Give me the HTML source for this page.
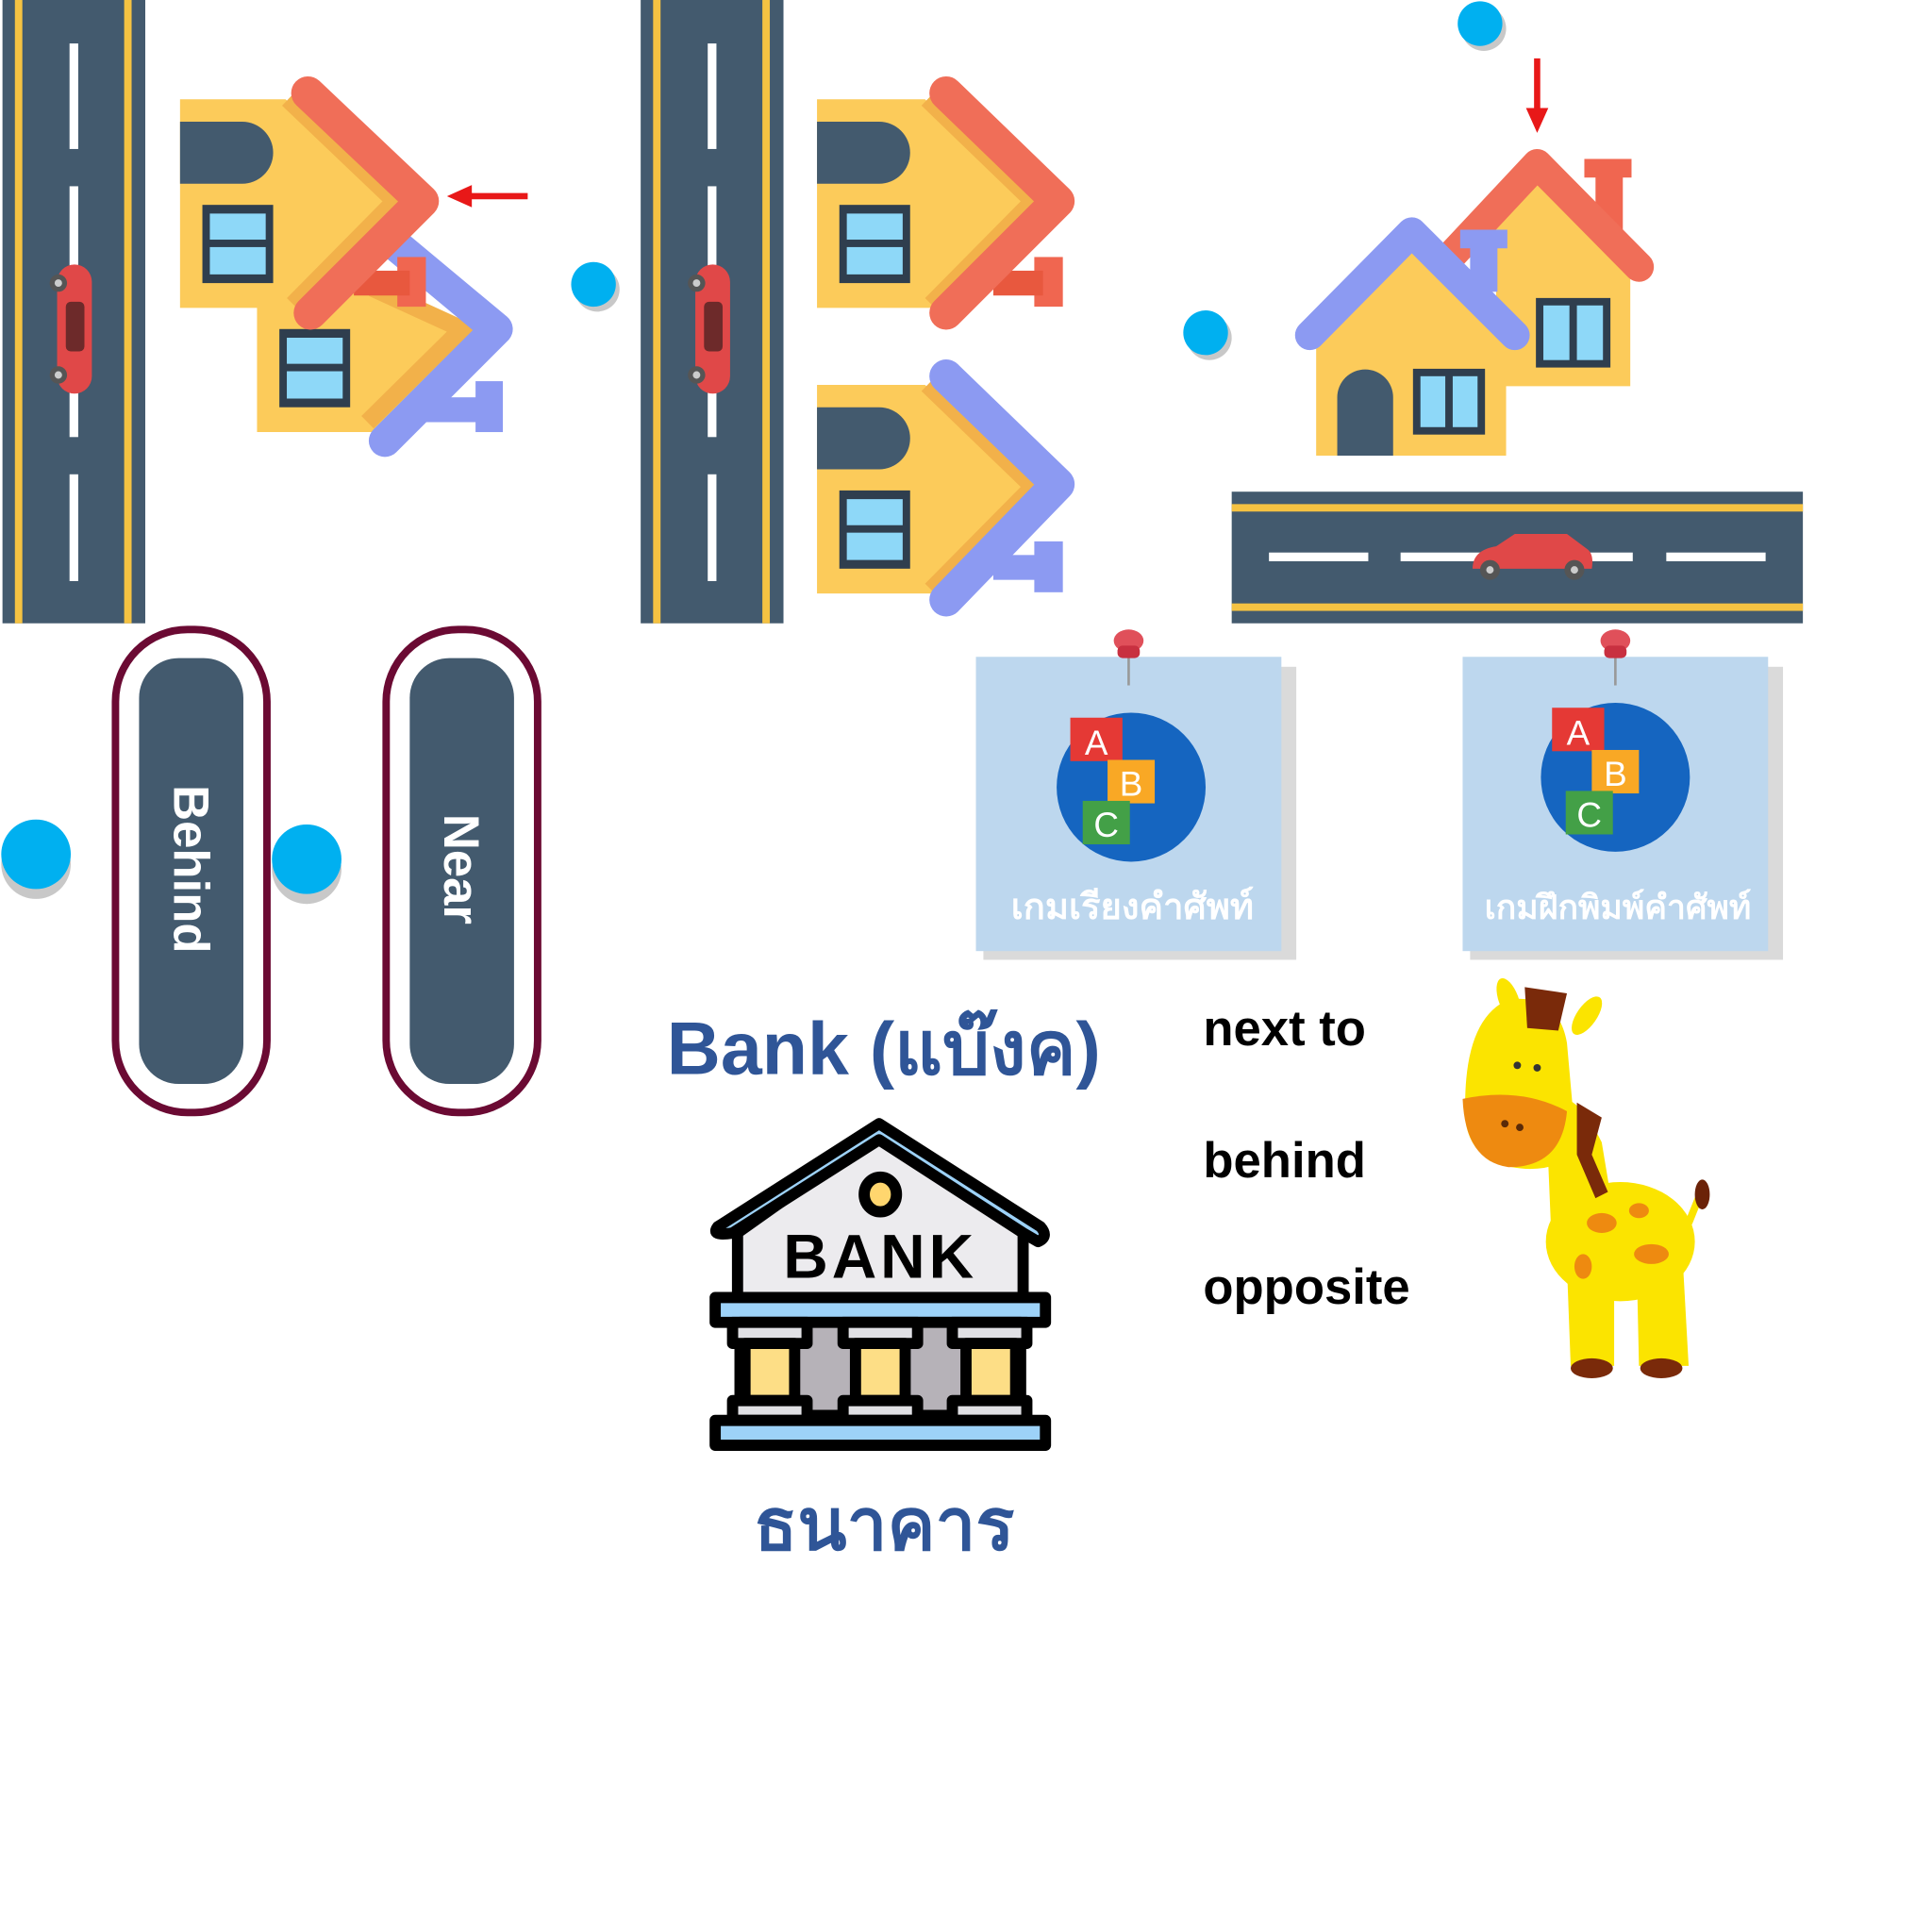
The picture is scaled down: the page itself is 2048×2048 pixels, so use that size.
<!DOCTYPE html>
<html><head><meta charset="utf-8"><style>
html,body{margin:0;padding:0;background:#fff;width:2048px;height:2048px;overflow:hidden}
svg{display:block}
text{font-family:"Liberation Sans","Noto Sans CJK SC",sans-serif}
</style></head><body>
<svg width="2048" height="2048" viewBox="0 0 1556 1556" xmlns="http://www.w3.org/2000/svg">
<defs>
<g id="vroad">
 <rect x="0" y="0" width="115" height="502" fill="#435A6E"/>
 <rect x="10" y="0" width="6" height="502" fill="#F5C242"/>
 <rect x="98" y="0" width="6" height="502" fill="#F5C242"/>
 <g fill="#fff"><rect x="54" y="35" width="7" height="85"/><rect x="54" y="150" width="7" height="70"/><rect x="54" y="300" width="7" height="52"/><rect x="54" y="382" width="7" height="86"/></g>
 <g transform="translate(58,265)">
  <rect x="-14" y="-52" width="28" height="104" rx="14" fill="#E04848"/>
  <rect x="-7" y="-22" width="15" height="40" rx="4" fill="#6d2a2a"/>
  <circle cx="-13" cy="-37" r="7" fill="#555"/><circle cx="-13" cy="37" r="7" fill="#555"/>
  <circle cx="-13" cy="-37" r="3" fill="#ccc"/><circle cx="-13" cy="37" r="3" fill="#ccc"/>
 </g>
</g>
<g id="win"><rect x="0" y="0" width="57" height="63" fill="#2f3e4e"/><rect x="6" y="7" width="45" height="21" fill="#8ED8F8"/><rect x="6" y="34" width="45" height="22" fill="#8ED8F8"/></g>
</defs>

<!-- Group 1 -->
<use href="#vroad" x="2" y="0"/>
<polygon points="207,230 300,230 385,265 300,348 207,348" fill="#FCCB5A"/>
<polyline points="300,232 372,265 296,340" fill="none" stroke="#F2B14A" stroke-width="14"/>
<rect x="383" y="307" width="22" height="41" fill="#8C9AF2"/>
<rect x="340" y="320" width="50" height="20" fill="#8C9AF2"/>
<polyline points="310,190 400,265 310,355" fill="none" stroke="#8C9AF2" stroke-width="26" stroke-linecap="round" stroke-linejoin="round"/>
<use href="#win" x="225" y="265"/>
<polygon points="145,80 230,80 320,160 240,248 145,248" fill="#FCCB5A"/>
<polyline points="232,80 318,162 236,245" fill="none" stroke="#F2B14A" stroke-width="14"/>
<rect x="320" y="207" width="23" height="40" fill="#F06650"/>
<rect x="285" y="218" width="45" height="20" fill="#E8583E"/>
<polyline points="248,75 340,162 250,252" fill="none" stroke="#F06E58" stroke-width="27" stroke-linecap="round" stroke-linejoin="round"/>
<path d="M145,98 H195 A25,25 0 0 1 195,148 H145 Z" fill="#435A6E"/>
<use href="#win" x="163" y="165"/>
<line x1="425" y1="158" x2="375" y2="158" stroke="#E81818" stroke-width="5"/>
<polygon points="360,158 380,149 380,167" fill="#E81818"/>

<!-- Group 2 -->
<use href="#vroad" x="516" y="0"/>
<polygon points="658,80 745,80 835,162 755,248 658,248" fill="#FCCB5A"/>
<polyline points="747,80 832,162 750,245" fill="none" stroke="#F2B14A" stroke-width="14"/>
<rect x="833" y="207" width="23" height="40" fill="#F06650"/>
<rect x="800" y="218" width="40" height="20" fill="#E8583E"/>
<polyline points="762,75 852,162 762,252" fill="none" stroke="#F06E58" stroke-width="27" stroke-linecap="round" stroke-linejoin="round"/>
<path d="M658,98 H708 A25,25 0 0 1 708,148 H658 Z" fill="#435A6E"/>
<use href="#win" x="676" y="165"/>
<polygon points="658,310 745,310 835,392 755,478 658,478" fill="#FCCB5A"/>
<polyline points="747,310 832,392 750,475" fill="none" stroke="#F2B14A" stroke-width="14"/>
<rect x="833" y="436" width="23" height="41" fill="#8C9AF2"/>
<rect x="800" y="447" width="40" height="20" fill="#8C9AF2"/>
<polyline points="762,303 852,390 762,483" fill="none" stroke="#8C9AF2" stroke-width="27" stroke-linecap="round" stroke-linejoin="round"/>
<path d="M658,328 H708 A25,25 0 0 1 708,378 H658 Z" fill="#435A6E"/>
<use href="#win" x="676" y="395"/>

<!-- Group 3 -->
<rect x="1276" y="128" width="38" height="15" fill="#F06650"/>
<rect x="1285" y="140" width="22" height="45" fill="#F06650"/>
<polygon points="1205,165 1238,132 1313,205 1313,311 1205,311" fill="#FCCB5A"/>
<polyline points="1165,210 1238,132 1320,215" fill="none" stroke="#F06E58" stroke-width="24" stroke-linecap="round" stroke-linejoin="round"/>
<rect x="1237" y="240" width="60" height="56" fill="#2f3e4e"/><rect x="1243" y="246" width="21" height="44" fill="#8ED8F8"/><rect x="1270" y="246" width="21" height="44" fill="#8ED8F8"/>
<rect x="1176" y="185" width="38" height="15" fill="#8C9AF2"/>
<rect x="1184" y="195" width="22" height="40" fill="#8C9AF2"/>
<polygon points="1060,280 1137,200 1213,275 1213,367 1060,367" fill="#FCCB5A"/>
<polyline points="1055,270 1137,187 1220,270" fill="none" stroke="#8C9AF2" stroke-width="24" stroke-linecap="round" stroke-linejoin="round"/>
<path d="M1077,367 V320 A22,22 0 0 1 1122,320 V367 Z" fill="#435A6E"/>
<rect x="1138" y="297" width="58" height="53" fill="#2f3e4e"/><rect x="1144" y="303" width="20" height="41" fill="#8ED8F8"/><rect x="1170" y="303" width="20" height="41" fill="#8ED8F8"/>
<line x1="1238" y1="47" x2="1238" y2="92" stroke="#E81818" stroke-width="5"/>
<polygon points="1238,107 1229,87 1247,87" fill="#E81818"/>

<!-- horizontal road -->
<rect x="992" y="396" width="460" height="106" fill="#435A6E"/>
<rect x="992" y="406" width="460" height="6" fill="#F5C242"/>
<rect x="992" y="486" width="460" height="6" fill="#F5C242"/>
<g fill="#fff"><rect x="1022" y="445" width="80" height="7"/><rect x="1128" y="445" width="80" height="7"/><rect x="1235" y="445" width="80" height="7"/><rect x="1342" y="445" width="80" height="7"/></g>
<path d="M1186,458 Q1186,443 1205,440 L1220,430 H1262 L1278,442 Q1284,446 1282,458 Z" fill="#E04848"/>
<circle cx="1200" cy="459" r="8" fill="#555"/><circle cx="1268" cy="459" r="8" fill="#555"/>
<circle cx="1200" cy="459" r="3" fill="#ccc"/><circle cx="1268" cy="459" r="3" fill="#ccc"/>

<!-- blue dots -->
<g>
<circle cx="481" cy="233" r="18" fill="#c8c8c8"/><circle cx="478" cy="229" r="18" fill="#00B0F0"/>
<circle cx="974" cy="272" r="18" fill="#c8c8c8"/><circle cx="971" cy="268" r="18" fill="#00B0F0"/>
<circle cx="1195" cy="23" r="18" fill="#c8c8c8"/><circle cx="1192" cy="19" r="18" fill="#00B0F0"/>
<circle cx="29" cy="696" r="28" fill="#c8c8c8"/><circle cx="29" cy="688" r="28" fill="#00B0F0"/>
<circle cx="247" cy="700" r="28" fill="#c8c8c8"/><circle cx="247" cy="692" r="28" fill="#00B0F0"/>
</g>

<!-- pills -->
<rect x="93" y="507" width="122" height="389" rx="58" fill="#fff" stroke="#6B0A33" stroke-width="6"/>
<rect x="112" y="530" width="84" height="343" rx="32" fill="#435A6E"/>
<text transform="translate(140,700) rotate(90)" text-anchor="middle" font-size="40" font-weight="bold" fill="#fff">Behind</text>
<rect x="311" y="507" width="122" height="389" rx="58" fill="#fff" stroke="#6B0A33" stroke-width="6"/>
<rect x="330" y="530" width="84" height="343" rx="32" fill="#435A6E"/>
<text transform="translate(358,700) rotate(90)" text-anchor="middle" font-size="40" font-weight="bold" fill="#fff">Near</text>

<!-- cards -->
<g>
<rect x="792" y="537" width="252" height="236" fill="#DADADA"/>
<rect x="786" y="529" width="246" height="237" fill="#BDD7EE"/>
<line x1="909" y1="520" x2="909" y2="552" stroke="#999" stroke-width="2"/>
<ellipse cx="909" cy="516" rx="12" ry="9" fill="#E0505A"/><rect x="900" y="520" width="18" height="10" rx="4" fill="#C83040"/>
<circle cx="911" cy="634" r="60" fill="#1565C0"/>
<rect x="862" y="578" width="42" height="35" fill="#E53935"/><text x="883" y="608" text-anchor="middle" font-size="28" fill="#fff">A</text>
<rect x="892" y="612" width="38" height="35" fill="#F9A825"/><text x="911" y="641" text-anchor="middle" font-size="28" fill="#fff">B</text>
<rect x="872" y="645" width="38" height="35" fill="#43A047"/><text x="891" y="674" text-anchor="middle" font-size="28" fill="#fff">C</text>
<text x="912" y="740" text-anchor="middle" font-size="29" font-weight="bold" fill="#fff">เกมเรียงคำศัพท์</text>
</g>
<g>
<rect x="1184" y="537" width="252" height="236" fill="#DADADA"/>
<rect x="1178" y="529" width="246" height="237" fill="#BDD7EE"/>
<line x1="1301" y1="520" x2="1301" y2="552" stroke="#999" stroke-width="2"/>
<ellipse cx="1301" cy="516" rx="12" ry="9" fill="#E0505A"/><rect x="1292" y="520" width="18" height="10" rx="4" fill="#C83040"/>
<circle cx="1301" cy="626" r="60" fill="#1565C0"/>
<rect x="1250" y="570" width="42" height="35" fill="#E53935"/><text x="1271" y="600" text-anchor="middle" font-size="28" fill="#fff">A</text>
<rect x="1282" y="604" width="38" height="35" fill="#F9A825"/><text x="1301" y="633" text-anchor="middle" font-size="28" fill="#fff">B</text>
<rect x="1261" y="637" width="38" height="35" fill="#43A047"/><text x="1280" y="666" text-anchor="middle" font-size="28" fill="#fff">C</text>
<text x="1303" y="740" text-anchor="middle" font-size="27" font-weight="bold" fill="#fff">เกมฝึกพิมพ์คำศัพท์</text>
</g>

<!-- bank texts -->
<text x="537" y="865" font-size="60" font-weight="bold" fill="#2F5597">Bank (แบ๊งค)</text>
<text x="712" y="1248" text-anchor="middle" font-size="58" font-weight="bold" fill="#2F5597">ธนาคาร</text>
<g font-size="40" font-weight="bold" fill="#000">
<text x="969" y="842">next to</text>
<text x="969" y="948">behind</text>
<text x="969" y="1050">opposite</text>
</g>

<!-- bank icon -->
<g stroke="#000" stroke-width="9" stroke-linejoin="round">
<polygon points="594,993 708,912 824,993 824,1045 594,1045" fill="#ECEBEE"/>
<path d="M578,988 L708,905 L838,988 Q845,996 836,1000 L824,993 L708,918 L590,993 Q572,996 578,988 Z" fill="#9DD2F8"/>
<ellipse cx="709" cy="962" rx="13" ry="14" fill="#FFD66E"/>
<rect x="576" y="1045" width="266" height="20" fill="#9DD2F8"/>
<rect x="596" y="1065" width="226" height="75" fill="#B6B2B8"/>
<rect x="590" y="1065" width="60" height="17" fill="#E0E0E4"/><rect x="679" y="1065" width="60" height="17" fill="#E0E0E4"/><rect x="767" y="1065" width="60" height="17" fill="#E0E0E4"/>
<rect x="600" y="1082" width="40" height="46" fill="#FDDE86"/><rect x="689" y="1082" width="40" height="46" fill="#FDDE86"/><rect x="778" y="1082" width="40" height="46" fill="#FDDE86"/>
<rect x="590" y="1128" width="60" height="16" fill="#E0E0E4"/><rect x="679" y="1128" width="60" height="16" fill="#E0E0E4"/><rect x="767" y="1128" width="60" height="16" fill="#E0E0E4"/>
<rect x="576" y="1144" width="266" height="20" fill="#9DD2F8"/>
</g>
<text x="709" y="1029" text-anchor="middle" font-size="50" font-weight="bold" fill="#000" letter-spacing="3">BANK</text>

<!-- giraffe -->
<g>
<path d="M1265,1100 L1262,1020 L1300,1010 L1300,1100 Z" fill="#FBE400"/>
<path d="M1320,1100 L1318,1010 L1355,1010 L1360,1100 Z" fill="#FBE400"/>
<ellipse cx="1305" cy="1000" rx="60" ry="48" fill="#FBE400"/>
<path d="M1245,890 Q1265,870 1290,920 L1300,980 L1250,1010 Z" fill="#FBE400"/>
<path d="M1270,888 L1290,900 L1282,930 L1295,960 L1285,965 L1270,930 Z" fill="#7A2A0A"/>
<path d="M1360,985 L1372,955" stroke="#FBE400" stroke-width="6"/>
<ellipse cx="1371" cy="962" rx="6" ry="12" fill="#6B2208"/>
<path d="M1180,890 Q1180,820 1215,805 Q1255,800 1262,840 L1270,930 Q1240,950 1200,935 Q1178,920 1180,890 Z" fill="#FBE400"/>
<path d="M1178,885 Q1225,875 1262,895 Q1258,940 1215,940 Q1180,935 1178,885 Z" fill="#EE8A10"/>
<ellipse cx="1215" cy="805" rx="8" ry="18" fill="#FBE400" transform="rotate(-20 1215 805)"/>
<ellipse cx="1278" cy="818" rx="8" ry="18" fill="#FBE400" transform="rotate(35 1278 818)"/>
<path d="M1228,795 L1262,800 L1255,830 L1230,828 Z" fill="#7A2A0A"/>
<g fill="#EE8A10"><ellipse cx="1290" cy="985" rx="12" ry="8"/><ellipse cx="1330" cy="1010" rx="14" ry="8"/><ellipse cx="1275" cy="1020" rx="7" ry="10"/><ellipse cx="1320" cy="975" rx="8" ry="6"/></g>
<ellipse cx="1282" cy="1102" rx="17" ry="8" fill="#7A2A0A"/><ellipse cx="1338" cy="1102" rx="17" ry="8" fill="#7A2A0A"/>
<circle cx="1222" cy="858" r="3" fill="#333"/><circle cx="1238" cy="860" r="3" fill="#333"/>
<circle cx="1212" cy="905" r="3" fill="#5a2a08"/><circle cx="1224" cy="908" r="3" fill="#5a2a08"/>
</g>
</svg>
</body></html>
